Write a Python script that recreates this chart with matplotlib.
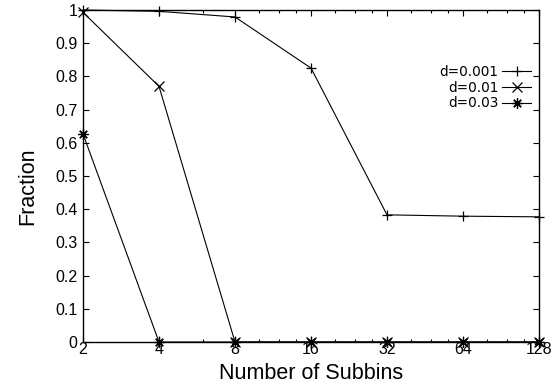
import matplotlib
matplotlib.use("Agg")
import matplotlib.pyplot as plt
from matplotlib.ticker import FixedLocator, NullFormatter

# Number of subbins (log2 axis)
subbins = [2, 4, 8, 16, 32, 64, 128]

# Fraction for each threshold d
frac_d0001 = [1.0, 0.996, 0.979, 0.825, 0.383, 0.379, 0.377]
frac_d001 = [0.993, 0.770, 0.0, 0.0, 0.0, 0.0, 0.0]
frac_d003 = [0.627, 0.0, 0.0, 0.0, 0.0, 0.0, 0.0]

labels = ["d=0.001", "d=0.01", "d=0.03"]
markers = ["+", "x", (8, 2, 0)]

yticks = [i / 10 for i in range(11)]
ytick_labels = ["0", "0.1", "0.2", "0.3", "0.4", "0.5", "0.6", "0.7", "0.8", "0.9", "1"]
xminor = [6, 10, 12, 14, 20, 24, 28, 40, 48, 56, 80, 96, 112]

fig = plt.figure(figsize=(5.56, 3.90), dpi=100)
ax = fig.add_axes([83 / 556, 1 - 342 / 390, (539 - 83) / 556, (342 - 10) / 390])

series = [frac_d0001, frac_d001, frac_d003]
handles = []
for vals, lab, mk in zip(series, labels, markers):
    h, = ax.plot(subbins, vals, color="black", lw=0.8, marker=mk,
                 markersize=7.5, markeredgewidth=0.9, clip_on=False,
                 label=lab, zorder=3)
    handles.append(h)

ax.set_xscale("log", base=2)
ax.set_xlim(2, 128)
ax.set_ylim(0, 1)
ax.set_xticks(subbins)
ax.set_xticklabels([str(s) for s in subbins])
ax.xaxis.set_minor_locator(FixedLocator(xminor))
ax.xaxis.set_minor_formatter(NullFormatter())
ax.set_yticks(yticks)
ax.set_yticklabels(ytick_labels)

for t in ax.get_xticklabels() + ax.get_yticklabels():
    t.set_fontfamily("Liberation Sans")
    t.set_fontsize(11.5)

ax.tick_params(which="major", direction="in", length=4.5, width=0.8,
               top=True, right=True, colors="black")
ax.tick_params(axis="x", which="major", pad=0)
ax.tick_params(axis="y", which="major", pad=4)
ax.tick_params(which="minor", direction="in", length=2.5, width=0.8,
               top=True, right=True)
for sp in ax.spines.values():
    sp.set_linewidth(1.0)
    sp.set_color("black")

ax.set_xlabel("Number of Subbins", family="Liberation Sans", size=15.5, labelpad=4)
ax.set_ylabel("Fraction", family="Liberation Sans", size=15.5)
ax.yaxis.set_label_coords(-0.099, 0.47)

leg = ax.legend(handles=handles, loc="upper right",
                bbox_to_anchor=(531 / 556, 1 - 65 / 390),
                bbox_transform=fig.transFigure, frameon=False,
                markerfirst=False, handlelength=2.1, handletextpad=0.3,
                labelspacing=0.12, borderpad=0, borderaxespad=0,
                prop=dict(family="DejaVu Sans", size=9.8))

fig.savefig("out.png", dpi=100)
